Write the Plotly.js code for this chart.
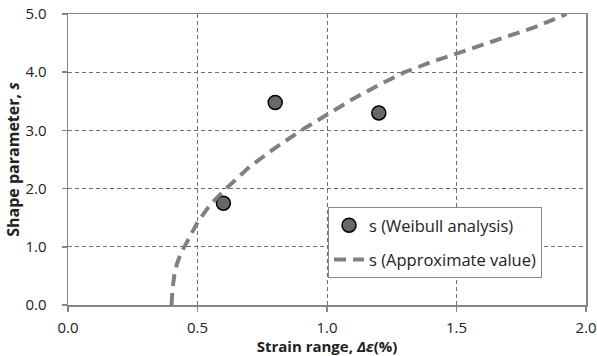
<!DOCTYPE html>
<html>
<head>
<meta charset="utf-8">
<script src="https://cdn.plot.ly/plotly-3.0.1.min.js"></script>
<style>html,body{margin:0;padding:0;background:#fff;}#chart{width:597px;height:356px;}</style>
</head>
<body>
<div id="chart"></div>
<script>
// Weibull analysis points
const weibullX = [0.60, 0.80, 1.20];
const weibullY = [1.75, 3.48, 3.30];
// Approximate curve
const approxX = [0.40, 0.403, 0.41, 0.42, 0.435, 0.45, 0.475, 0.50, 0.55, 0.61, 0.70, 0.80, 0.90, 1.00, 1.10, 1.20, 1.30, 1.40, 1.50, 1.60, 1.70, 1.80, 1.925];
const approxY = [0.00, 0.25, 0.50, 0.70, 0.88, 1.00, 1.22, 1.42, 1.73, 2.00, 2.37, 2.70, 3.00, 3.27, 3.54, 3.78, 4.00, 4.17, 4.32, 4.48, 4.62, 4.77, 5.00];
const xTicks = [0, 0.5, 1.0, 1.5, 2.0];
const xTickText = ["0.0", "0.5", "1.0", "1.5", "2.0"];
const yTicks = [0, 1, 2, 3, 4, 5];
const yTickText = ["0.0", "1.0", "2.0", "3.0", "4.0", "5.0"];

const font = "Open Sans, Liberation Sans, Arial, sans-serif";

const traces = [
  {
    x: weibullX, y: weibullY, mode: "markers", type: "scatter",
    name: "s (Weibull analysis)", legendgroup: "a",
    marker: {size: 14, color: "#686868", line: {color: "#000", width: 1.5}}
  },
  {
    x: approxX, y: approxY, mode: "lines", type: "scatter",
    name: "s (Approximate value)", legendgroup: "b",
    line: {color: "#808080", width: 4, dash: "12px,7px"}
  }
];

const axisCommon = {
  showline: true, linecolor: "#868686", linewidth: 1.5, mirror: true,
  showgrid: true, gridcolor: "#707070", griddash: "4px,3px", gridwidth: 1,
  ticks: "outside", ticklen: 5, tickcolor: "#868686", tickwidth: 1.5,
  zeroline: false, ticklabeloverflow: "allow",
  tickfont: {family: font, size: 15, color: "#222"}
};

const layout = {
  width: 597, height: 356,
  margin: {l: 68, r: 11, t: 14, b: 51},
  paper_bgcolor: "#fff", plot_bgcolor: "#fff",
  showlegend: true,
  xaxis: Object.assign({}, axisCommon, {
    range: [0, 2.0], tickvals: xTicks, ticktext: xTickText,
    ticklabelstandoff: 3, automargin: false,
    title: {text: "<b>Strain range, <i>Δε</i>(%)</b>", font: {family: font, size: 15, color: "#222"}, standoff: 0}
  }),
  yaxis: Object.assign({}, axisCommon, {
    range: [0, 5.0], tickvals: yTicks, ticktext: yTickText,
    ticklabelstandoff: 12, automargin: false,
    title: {text: "<b>Shape parameter, <i>s</i></b>", font: {family: font, size: 16, color: "#222"}, standoff: 2}
  }),
  legend: {
    x: 0.502, y: 0.337, xanchor: "left", yanchor: "top",
    bgcolor: "#fff", bordercolor: "#888", borderwidth: 1,
    font: {family: font, size: 16.5, color: "#222"},
    traceorder: "grouped", tracegroupgap: 10
  }
};

Plotly.newPlot("chart", traces, layout, {displayModeBar: false, staticPlot: true});
</script>
</body>
</html>
